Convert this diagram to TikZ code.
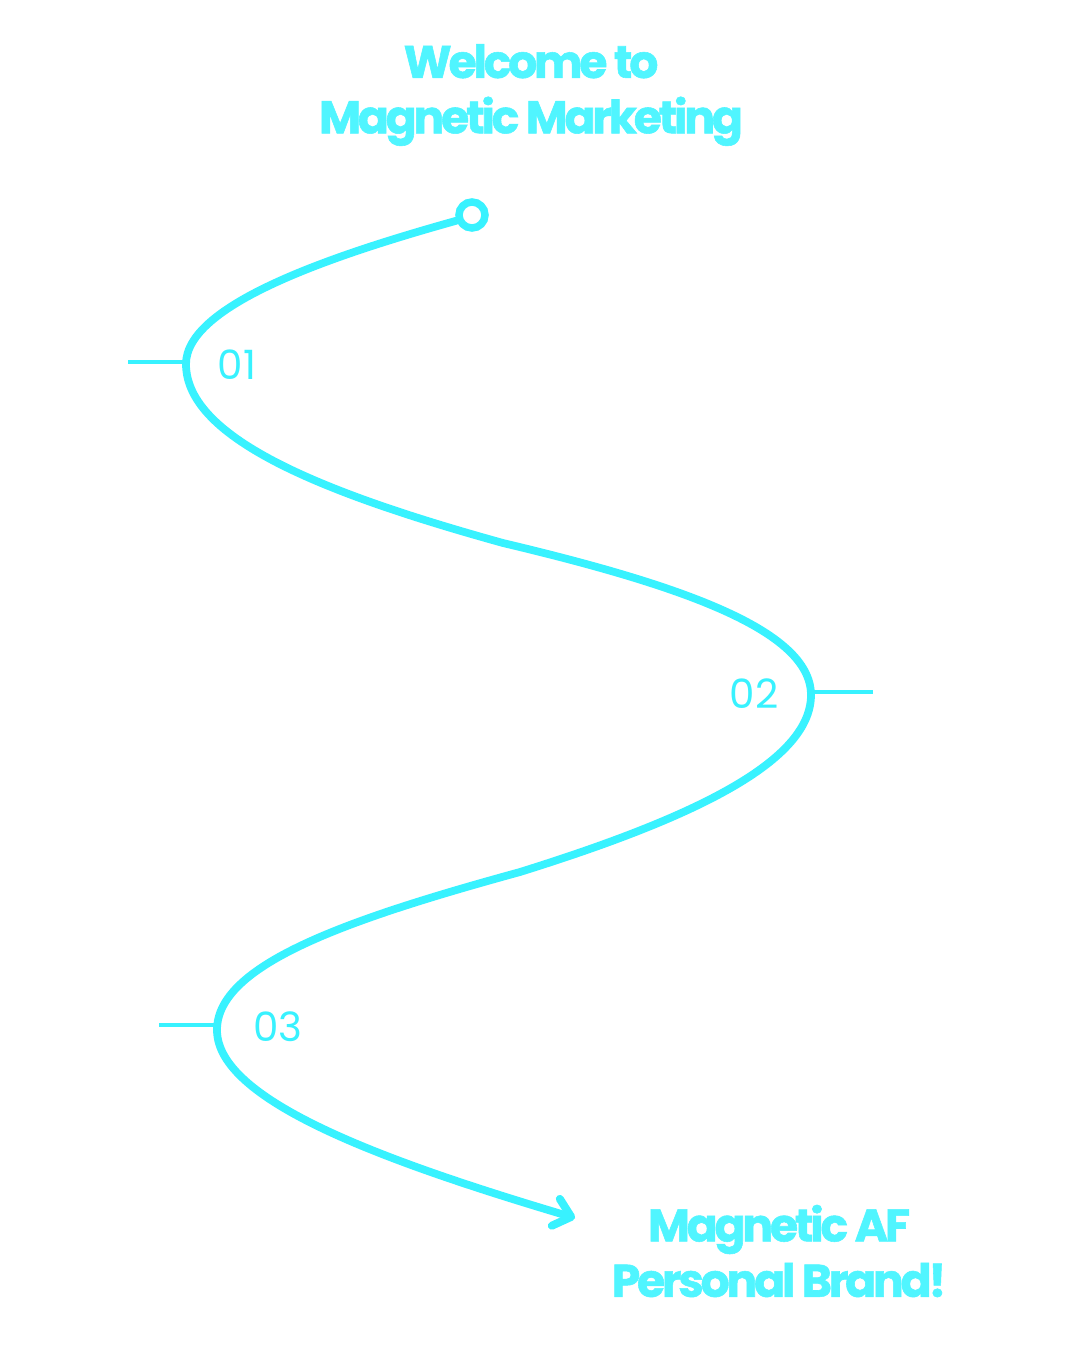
\documentclass[tikz,border=0pt]{standalone}
\usepackage{fontspec}
\setmainfont{Poppins}
\usetikzlibrary{positioning, arrows.meta}
\definecolor{neon}{RGB}{56,242,255}
\definecolor{neontext}{RGB}{80,245,255}
\tikzset{
    wave/.style={draw=neon, line width=0.155cm, line cap=round},
    tick/.style={draw=neon, line width=0.065cm},
    stepnum/.style={text=neon, font=\fontsize{23}{26}\selectfont, inner sep=0pt},
    headline/.style={text=neontext, align=center, inner sep=0pt,
        font=\fontsize{26}{31.5}\bfseries\addfontfeature{LetterSpace=-7,FakeBold=1.2}\selectfont}
}
\begin{document}
\begin{tikzpicture}[x=0.02cm, y=-0.02cm]
    \useasboundingbox[fill=white] (0,0) rectangle (1080,1350);

    % Titles
    \node[headline] (welcome) at (531,95) {Welcome to\\Magnetic Marketing};
    \node[headline] (brand) at (779,1251) {Magnetic AF\\Personal Brand!};

    % Start point and bends of the wave
    \node[draw=neon, circle, line width=0.15cm, minimum size=0.52cm, inner sep=0pt] (start) at (472,215) {};
    \coordinate (bend1) at (186,364);
    \coordinate (mid1) at (503,543);
    \coordinate (bend2) at (811,695);
    \coordinate (mid2) at (520,872);
    \coordinate (bend3) at (217,1030);
    \coordinate (finish) at (575,1218);

    % Wave
    \draw[wave] (start.200) .. controls (330,256) and (186,305) .. (bend1)
        .. controls (186,440) and (330,495) .. (mid1)
        .. controls (680,585) and (811,630) .. (bend2)
        .. controls (811,765) and (680,822) .. (mid2)
        .. controls (345,920) and (217,965) .. (bend3);
    \draw[wave, -{Straight Barb[length=0.32cm, width=0.56cm, round, line width=0.16cm]}]
        (bend3) .. controls (217,1100) and (380,1160) .. (finish);

    % Ticks
    \coordinate (tick1) at (128,362);
    \coordinate (tick2) at (873,692);
    \coordinate (tick3) at (159,1025);
    \draw[tick] (tick1) -- (bend1 |- tick1);
    \draw[tick] (bend2 |- tick2) -- (tick2);
    \draw[tick] (tick3) -- (bend3 |- tick3);

    % Step numbers
    \node[stepnum] (n1) at (237,365) {01};
    \node[stepnum] (n2) at (754,694) {02};
    \node[stepnum] (n3) at (278,1027) {03};
\end{tikzpicture}
\end{document}
